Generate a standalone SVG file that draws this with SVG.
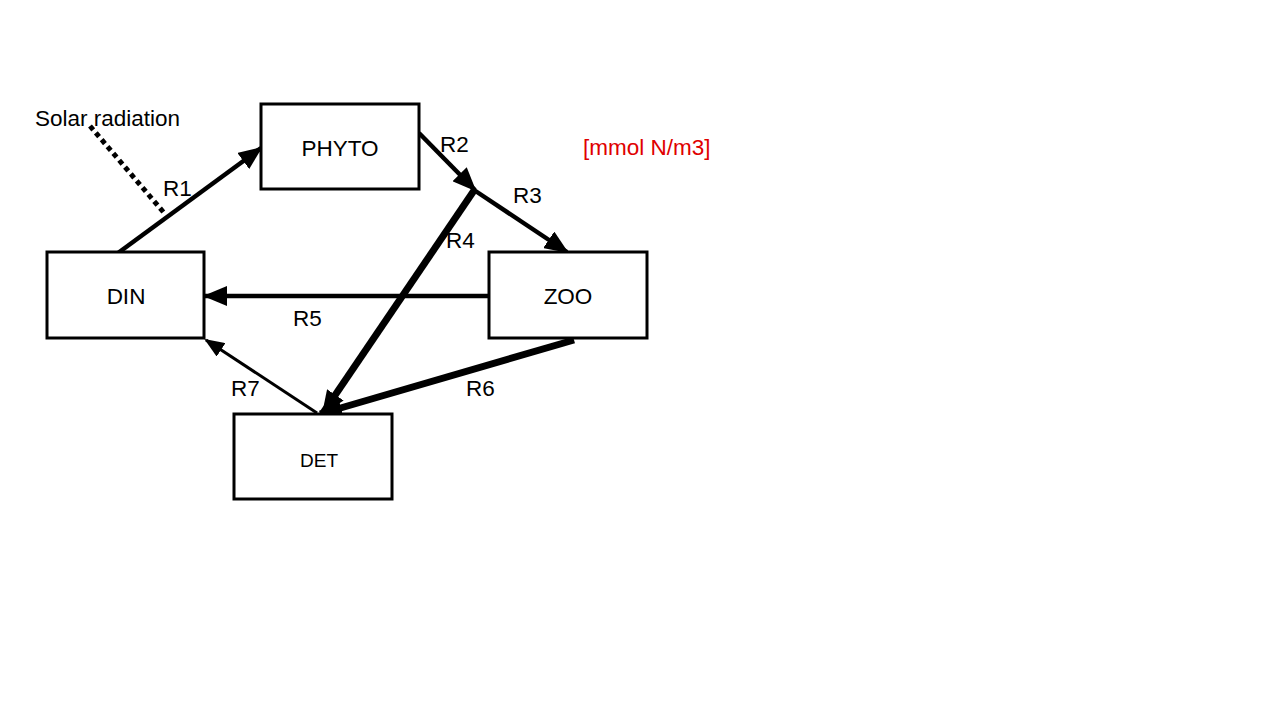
<svg xmlns="http://www.w3.org/2000/svg" width="1280" height="720" viewBox="0 0 1280 720">
<defs>
<marker id="ah" viewBox="0 0 24 20" refX="22" refY="10" markerWidth="24" markerHeight="20" markerUnits="userSpaceOnUse" orient="auto">
<path d="M0,0 L24,10 L0,20 Z" fill="#000"/>
</marker>
<marker id="ahs" viewBox="0 0 20 16" refX="18" refY="8" markerWidth="20" markerHeight="16" markerUnits="userSpaceOnUse" orient="auto">
<path d="M0,0 L20,8 L0,16 Z" fill="#000"/>
</marker>
</defs>
<style>
.box{fill:#fff;stroke:#000;stroke-width:3}
.t{font-family:"Liberation Sans",Arial,sans-serif;font-size:22.5px;fill:#000}
.c{stroke:#000;fill:none}
</style>
<rect width="1280" height="720" fill="#fff"/>
<g id="connectors">
<line class="c" x1="90" y1="126" x2="165" y2="214" stroke-width="5" stroke-dasharray="5,4"/>
<line class="c" x1="118" y1="253" x2="261" y2="148" stroke-width="4.5" marker-end="url(#ah)"/>
<line class="c" x1="419" y1="133" x2="475" y2="190" stroke-width="4.5" marker-end="url(#ah)"/>
<line class="c" x1="474" y1="190" x2="567" y2="252" stroke-width="4.5" marker-end="url(#ah)"/>
<line class="c" x1="475" y1="189" x2="323" y2="413" stroke-width="7" marker-end="url(#ah)"/>
<line class="c" x1="489" y1="296" x2="205" y2="296" stroke-width="4.5" marker-end="url(#ah)"/>
<line class="c" x1="574" y1="340" x2="320" y2="414" stroke-width="7" marker-end="url(#ah)"/>
<line class="c" x1="317" y1="413" x2="206" y2="340" stroke-width="3" marker-end="url(#ahs)"/>
</g>
<g id="labels">
<text class="t" x="35" y="126">Solar radiation</text>
<text class="t" x="163" y="196">R1</text>
<text class="t" x="440" y="152">R2</text>
<text class="t" x="513" y="203">R3</text>
<text class="t" x="446" y="248">R4</text>
<text class="t" x="293" y="326">R5</text>
<text class="t" x="466" y="396">R6</text>
<text class="t" x="231" y="396">R7</text>
<text class="t" x="583" y="155" style="fill:#e00000">[mmol N/m3]</text>
</g>
<g id="PHYTO">
<rect class="box" x="261" y="104" width="158" height="85"/>
<text class="t" x="340" y="156" text-anchor="middle">PHYTO</text>
</g>
<g id="DIN">
<rect class="box" x="47" y="252" width="157" height="86"/>
<text class="t" x="126" y="304" text-anchor="middle">DIN</text>
</g>
<g id="ZOO">
<rect class="box" x="489" y="252" width="158" height="86"/>
<text class="t" x="568" y="304" text-anchor="middle">ZOO</text>
</g>
<g id="DET">
<rect class="box" x="234" y="414" width="158" height="85"/>
<text class="t" x="319" y="467" text-anchor="middle" style="font-size:19px">DET</text>
</g>
</svg>
